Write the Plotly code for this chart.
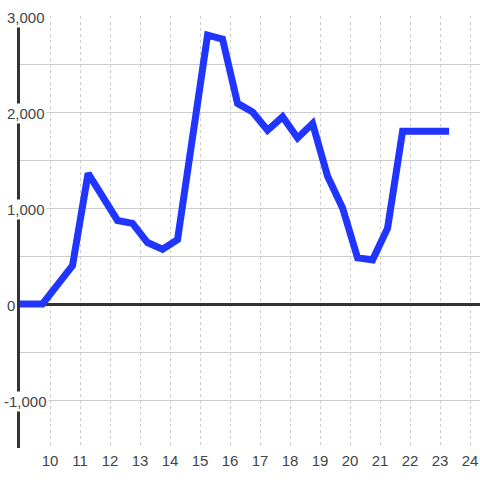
import plotly.graph_objects as go

# Data
hours = [9.0, 9.75, 10.75, 11.27, 12.25, 12.75, 13.25, 13.75, 14.25, 15.25, 15.75,
         16.25, 16.75, 17.25, 17.75, 18.25, 18.75, 19.25, 19.75, 20.25, 20.75,
         21.25, 21.75, 23.3]
values = [0, 0, 400, 1360, 870, 840, 640, 570, 670, 2800, 2760,
          2090, 2000, 1810, 1950, 1730, 1880, 1330, 1000, 480, 460,
          790, 1800, 1800]

x_ticks = list(range(10, 25))
y_label_values = [3000, 2000, 1000, 0, -1000]
y_label_texts = ["3,000", "2,000", "1,000", "0", "-1,000"]

X_RANGE = [9, 24.33]
Y_RANGE = [-1500, 3000]

FONT = "Liberation Sans, Arial, sans-serif"

fig = go.Figure()
fig.add_trace(go.Scatter(
    x=hours, y=values, mode="lines",
    line=dict(color="#2035ff", width=7),
    hoverinfo="skip",
))

plot_w = 460
annotations = []
for v, t in zip(y_label_values, y_label_texts):
    left_px = 2 if t.startswith("-") else 5
    annotations.append(dict(
        x=(left_px - 20) / plot_w, xref="paper", xanchor="left",
        y=v, yref="y", yanchor="middle", yshift=-1,
        text=t, showarrow=False,
        font=dict(family=FONT, size=15, color="#444"),
        bgcolor="white", borderpad=1,
    ))

fig.update_layout(
    width=480, height=480,
    margin=dict(l=20, r=0, t=16, b=32, autoexpand=False),
    paper_bgcolor="white", plot_bgcolor="white",
    showlegend=False,
    font=dict(family=FONT, size=15, color="#444"),
    annotations=annotations,
    xaxis=dict(
        range=X_RANGE, tickvals=x_ticks, ticktext=[str(t) for t in x_ticks],
        showgrid=True, gridcolor="#cccccc", gridwidth=1, griddash="dot",
        zeroline=False, showline=False, ticks="", automargin=False,
        ticklabelstandoff=2,
        tickfont=dict(size=15, color="#444"),
    ),
    yaxis=dict(
        range=Y_RANGE, dtick=500, tick0=0,
        showgrid=True, gridcolor="#cccccc", gridwidth=1,
        zeroline=True, zerolinecolor="#333333", zerolinewidth=3,
        showline=True, linecolor="#333333", linewidth=3,
        showticklabels=False, ticks="", automargin=False,
    ),
)

fig.write_html("out.html",
               config={"displayModeBar": False},
               post_script="document.body.style.margin='0';document.body.style.overflow='hidden';")
